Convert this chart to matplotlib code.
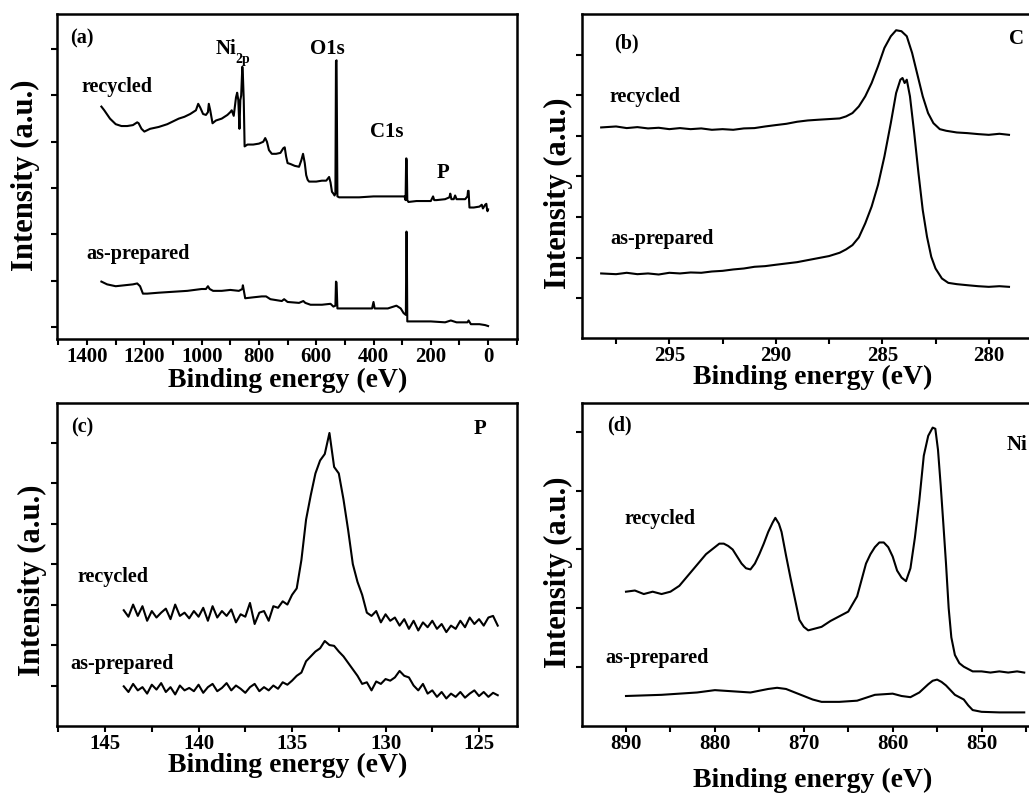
import matplotlib
matplotlib.use('Agg')
import matplotlib.pyplot as plt
from matplotlib.ticker import MultipleLocator

plt.rcParams['font.family'] = ['Liberation Serif', 'DejaVu Serif']
plt.rcParams['font.weight'] = 'bold'

# ---------------- data: panel (a) survey ----------------
a_rec_x = [1350, 1340, 1320, 1300, 1280, 1260, 1240, 1225, 1220, 1210, 1200, 1180, 1150, 1120,
           1100, 1080, 1060, 1040, 1020, 1012, 1005, 995, 985, 978, 975, 970, 962, 950, 930, 910,
           900, 895, 888, 880, 876, 872, 868, 865, 862, 858, 856, 853, 850, 840, 820, 800, 785,
           778, 772, 765, 755, 740, 725, 715, 710, 705, 700, 690, 675, 660, 652, 646, 640, 635,
           630, 625, 615, 600, 580, 565, 555, 550, 545, 540, 536, 533, 531, 529, 526, 520, 500,
           450, 400, 350, 300, 292, 288, 286, 285, 284, 282, 278, 250, 200, 192, 188, 180, 150,
           135, 132, 128, 120, 115, 110, 100, 80, 72, 70, 68, 65, 50, 30, 22, 18, 10, 6, 4, 2, 0]
a_rec_y = [2.38, 2.34, 2.25, 2.19, 2.17, 2.17, 2.18, 2.21, 2.20, 2.14, 2.11, 2.14, 2.16, 2.19,
           2.22, 2.25, 2.27, 2.30, 2.34, 2.41, 2.37, 2.30, 2.29, 2.32, 2.41, 2.34, 2.20, 2.23,
           2.25, 2.29, 2.32, 2.34, 2.28, 2.48, 2.53, 2.45, 2.14, 2.45, 2.50, 2.81, 2.72, 2.45,
           1.95, 1.97, 1.97, 1.98, 2.00, 2.04, 2.00, 1.91, 1.87, 1.87, 1.88, 1.93, 1.94, 1.84,
           1.77, 1.76, 1.74, 1.73, 1.80, 1.87, 1.77, 1.64, 1.59, 1.57, 1.57, 1.57, 1.58, 1.58,
           1.62, 1.56, 1.46, 1.44, 1.42, 1.44, 2.87, 2.88, 1.41, 1.40, 1.40, 1.40, 1.41, 1.41,
           1.41, 1.41, 1.37, 1.82, 1.82, 1.80, 1.37, 1.35, 1.36, 1.36, 1.41, 1.37, 1.37, 1.38,
           1.40, 1.44, 1.38, 1.38, 1.42, 1.38, 1.38, 1.38, 1.41, 1.47, 1.47, 1.29, 1.29, 1.30,
           1.32, 1.28, 1.32, 1.33, 1.28, 1.25, 1.27]

a_pre_x = [1350, 1330, 1300, 1270, 1240, 1225, 1215, 1205, 1190, 1150, 1100, 1050, 1000, 985,
           978, 972, 960, 930, 900, 870, 858, 856, 852, 848, 820, 790, 775, 760, 720, 712, 700,
           660, 645, 638, 620, 580, 550, 540, 533, 531, 529, 526, 500, 450, 405, 400, 396, 350,
           320, 305, 295, 287, 285, 284, 282, 250, 200, 150, 130, 110, 72, 68, 60, 30, 10, 0]
a_pre_y = [0.49, 0.46, 0.44, 0.45, 0.46, 0.47, 0.44, 0.36, 0.36, 0.37, 0.38, 0.39, 0.41, 0.41,
           0.44, 0.41, 0.39, 0.39, 0.40, 0.39, 0.41, 0.45, 0.38, 0.31, 0.32, 0.33, 0.33, 0.30,
           0.28, 0.30, 0.27, 0.26, 0.28, 0.26, 0.24, 0.24, 0.25, 0.22, 0.23, 0.49, 0.48, 0.20,
           0.20, 0.20, 0.20, 0.27, 0.20, 0.20, 0.23, 0.20, 0.15, 0.13, 1.03, 1.02, 0.06, 0.06,
           0.06, 0.05, 0.07, 0.05, 0.05, 0.07, 0.03, 0.03, 0.02, 0.01]

# ---------------- data: panel (b) C 1s ----------------
b_rec_x = [298.2, 297.5, 297.0, 296.5, 296.0, 295.5, 295.0, 294.5, 294.0, 293.5, 293.0, 292.5,
           292.0, 291.5, 291.0, 290.5, 290.0, 289.5, 289.0, 288.5, 288.0, 287.5, 287.0, 286.7,
           286.4, 286.1, 285.8, 285.5, 285.2, 284.9, 284.6, 284.35, 284.1, 283.85, 283.6, 283.35,
           283.1, 282.85, 282.6, 282.3, 282.0, 281.5, 281.0, 280.5, 280.0, 279.5, 279.05]
b_rec_y = [2.103, 2.115, 2.095, 2.107, 2.091, 2.099, 2.082, 2.095, 2.082, 2.091, 2.074, 2.082,
           2.074, 2.091, 2.095, 2.115, 2.132, 2.148, 2.173, 2.189, 2.198, 2.206, 2.214, 2.239,
           2.280, 2.362, 2.486, 2.650, 2.856, 3.082, 3.226, 3.300, 3.288, 3.226, 3.021, 2.753,
           2.486, 2.280, 2.156, 2.082, 2.062, 2.041, 2.033, 2.021, 2.012, 2.025, 2.012]

b_pre_x = [298.2, 297.5, 297.0, 296.5, 296.0, 295.5, 295.0, 294.5, 294.0, 293.5, 293.0, 292.5,
           292.0, 291.5, 291.0, 290.5, 290.0, 289.5, 289.0, 288.5, 288.0, 287.5, 287.0, 286.7,
           286.4, 286.1, 285.8, 285.5, 285.2, 284.9, 284.6, 284.35, 284.15, 284.05, 283.95,
           283.85, 283.7, 283.5, 283.3, 283.1, 282.9, 282.7, 282.5, 282.2, 281.9, 281.5, 281.0,
           280.5, 280.0, 279.5, 279.05]
b_pre_y = [0.305, 0.296, 0.313, 0.296, 0.305, 0.292, 0.313, 0.305, 0.317, 0.313, 0.329, 0.337,
           0.354, 0.366, 0.387, 0.395, 0.412, 0.428, 0.444, 0.469, 0.494, 0.519, 0.560, 0.601,
           0.654, 0.749, 0.922, 1.128, 1.395, 1.745, 2.156, 2.527, 2.691, 2.712, 2.650, 2.691,
           2.486, 2.033, 1.539, 1.086, 0.757, 0.510, 0.366, 0.243, 0.189, 0.173, 0.160, 0.148,
           0.140, 0.148, 0.140]

# ---------------- data: panel (c) P 2p ----------------
c_x = [144.00, 143.75, 143.50, 143.25, 143.00, 142.75, 142.50, 142.25, 142.00, 141.75, 141.50,
       141.25, 141.00, 140.75, 140.50, 140.25, 140.00, 139.75, 139.50, 139.25, 139.00, 138.75,
       138.50, 138.25, 138.00, 137.75, 137.50, 137.25, 137.00, 136.75, 136.50, 136.25, 136.00,
       135.75, 135.50, 135.25, 135.00, 134.75, 134.50, 134.25, 134.00, 133.75, 133.50, 133.25,
       133.00, 132.75, 132.50, 132.25, 132.00, 131.75, 131.50, 131.25, 131.00, 130.75, 130.50,
       130.25, 130.00, 129.75, 129.50, 129.25, 129.00, 128.75, 128.50, 128.25, 128.00, 127.75,
       127.50, 127.25, 127.00, 126.75, 126.50, 126.25, 126.00, 125.75, 125.50, 125.25, 125.00,
       124.75, 124.50, 124.25, 124.00]
c_rec_y = [0.93, 0.85, 1.00, 0.86, 0.98, 0.80, 0.92, 0.84, 0.90, 0.95, 0.82, 1.00, 0.86, 0.90,
           0.83, 0.92, 0.85, 0.96, 0.80, 0.98, 0.84, 0.92, 0.86, 0.94, 0.78, 0.88, 0.85, 1.02,
           0.76, 0.90, 0.92, 0.80, 0.98, 0.96, 1.04, 1.00, 1.12, 1.20, 1.55, 2.05, 2.35, 2.62,
           2.78, 2.86, 3.12, 2.70, 2.62, 2.30, 1.92, 1.50, 1.28, 1.12, 0.90, 0.86, 0.92, 0.78,
           0.88, 0.80, 0.84, 0.74, 0.82, 0.70, 0.80, 0.68, 0.78, 0.72, 0.80, 0.70, 0.76, 0.66,
           0.74, 0.70, 0.80, 0.72, 0.84, 0.76, 0.82, 0.74, 0.84, 0.86, 0.74]
c_pre_y = [-0.01, -0.08, 0.02, -0.06, -0.02, -0.10, 0.01, -0.05, 0.03, -0.08, -0.02, -0.11,
           0.00, -0.06, -0.03, -0.07, 0.01, -0.09, -0.02, 0.02, -0.07, -0.03, 0.03, -0.06, 0.00,
           -0.04, -0.09, -0.02, 0.02, -0.07, -0.02, -0.06, 0.00, -0.04, 0.04, 0.01, 0.06, 0.12,
           0.16, 0.30, 0.36, 0.42, 0.46, 0.55, 0.50, 0.49, 0.42, 0.36, 0.28, 0.20, 0.12, 0.02,
           0.04, -0.06, 0.05, 0.02, 0.08, 0.06, 0.10, 0.18, 0.12, 0.10, 0.00, -0.06, 0.02, -0.10,
           -0.06, -0.14, -0.08, -0.16, -0.10, -0.14, -0.08, -0.15, -0.10, -0.06, -0.13, -0.08,
           -0.14, -0.09, -0.12]

# ---------------- data: panel (d) Ni 2p ----------------
d_rec_x = [890.0, 889.0, 888.0, 887.0, 886.0, 885.0, 884.0, 883.0, 882.0, 881.0, 880.0, 879.5,
           879.0, 878.5, 878.0, 877.5, 877.0, 876.5, 876.0, 875.5, 875.0, 874.5, 874.0, 873.5,
           873.2, 872.8, 872.5, 872.0, 871.5, 871.0, 870.5, 870.0, 869.5, 869.0, 868.0, 867.0,
           866.0, 865.0, 864.0, 863.5, 863.0, 862.5, 862.0, 861.5, 861.0, 860.5, 860.0, 859.5,
           859.0, 858.5, 858.0, 857.5, 857.0, 856.5, 856.0, 855.5, 855.2, 854.9, 854.6, 854.3,
           854.0, 853.7, 853.4, 853.0, 852.5, 852.0, 851.0, 850.0, 849.0, 848.0, 847.0, 846.0,
           845.2]
d_rec_y = [0.64, 0.65, 0.62, 0.64, 0.62, 0.64, 0.69, 0.78, 0.87, 0.96, 1.02, 1.05, 1.05, 1.03,
           1.00, 0.94, 0.88, 0.84, 0.83, 0.88, 0.96, 1.05, 1.15, 1.23, 1.27, 1.22, 1.15, 0.95,
           0.76, 0.58, 0.40, 0.34, 0.31, 0.32, 0.34, 0.39, 0.43, 0.47, 0.60, 0.74, 0.88, 0.96,
           1.02, 1.06, 1.06, 1.02, 0.94, 0.82, 0.76, 0.73, 0.84, 1.10, 1.42, 1.80, 1.97, 2.04,
           2.03, 1.85, 1.55, 1.22, 0.88, 0.50, 0.25, 0.10, 0.03, 0.00, -0.04, -0.04, -0.05,
           -0.04, -0.05, -0.04, -0.05]

d_pre_x = [890, 888, 886, 884, 882, 880, 878, 876, 874, 873, 872, 871, 870, 869, 868, 866, 864,
           862, 860, 859, 858, 857, 856, 855.5, 855, 854.5, 854, 853.5, 853, 852.5, 852, 851.5,
           851, 850, 848, 846, 845.2]
d_pre_y = [-0.25, -0.245, -0.24, -0.23, -0.22, -0.20, -0.21, -0.22, -0.19, -0.18, -0.19, -0.22,
           -0.25, -0.28, -0.30, -0.30, -0.29, -0.24, -0.23, -0.25, -0.26, -0.22, -0.15, -0.12,
           -0.11, -0.13, -0.16, -0.20, -0.24, -0.26, -0.28, -0.33, -0.37, -0.385, -0.39, -0.39,
           -0.39]

# ---------------- tick settings ----------------
a_xticks = [1400, 1200, 1000, 800, 600, 400, 200, 0]
b_xticks = [295, 290, 285, 280]
c_xticks = [145, 140, 135, 130, 125]
d_xticks = [890, 880, 870, 860, 850]

W, H = 1029, 796
fig = plt.figure(figsize=(W / 100, H / 100), dpi=100)


def px_ax(l, t, r, b):
    return [l / W, 1 - b / H, (r - l) / W, (b - t) / H]


def ftext(x, y, s, size=14, **kw):
    fig.text(x / W, 1 - y / H, s, ha='center', va='center', fontsize=size,
             fontweight='bold', **kw)


def style(ax, xlim, ylim, xticks, xminor, yticks):
    ax.set_xlim(*xlim)
    ax.set_ylim(*ylim)
    ax.set_xticks(xticks)
    ax.xaxis.set_minor_locator(MultipleLocator(xminor))
    ax.set_yticks(yticks)
    ax.tick_params(axis='both', which='both', direction='out', length=4, width=1.5,
                   labelsize=15, pad=2)
    ax.tick_params(axis='y', labelleft=False)
    for s in ax.spines.values():
        s.set_linewidth(1.8)
    for lab in ax.get_xticklabels():
        lab.set_fontweight('bold')


lw = 1.5
axA = fig.add_axes(px_ax(57, 14, 517, 339))
axA.plot(a_rec_x, a_rec_y, color='black', lw=lw)
axA.plot(a_pre_x, a_pre_y, color='black', lw=lw)
style(axA, (1505, -101), (-0.13, 3.38), a_xticks, 100, [0, 0.5, 1, 1.5, 2, 2.5, 3])

axB = fig.add_axes(px_ax(582, 14, 1042, 338))
axB.plot(b_rec_x, b_rec_y, color='black', lw=lw)
axB.plot(b_pre_x, b_pre_y, color='black', lw=lw)
style(axB, (299.1, 277.5), (-0.49, 3.5), b_xticks, 2.5, [0, 0.5, 1, 1.5, 2, 2.5, 3])

axC = fig.add_axes(px_ax(57, 403, 517, 726))
axC.plot(c_x, c_rec_y, color='black', lw=lw)
axC.plot(c_x, c_pre_y, color='black', lw=lw)
style(axC, (147.57, 122.97), (-0.5, 3.49), c_xticks, 2.5, [0, 0.5, 1, 1.5, 2, 2.5, 3])

axD = fig.add_axes(px_ax(582, 403, 1042, 726))
axD.plot(d_rec_x, d_rec_y, color='black', lw=lw)
axD.plot(d_pre_x, d_pre_y, color='black', lw=lw)
style(axD, (894.95, 843.2), (-0.506, 2.25), d_xticks, 5, [0, 0.5, 1, 1.5, 2])

# axis labels
for (x, y) in [(288, 380), (813, 377), (288, 765), (813, 780)]:
    ftext(x, y, 'Binding energy (eV)', size=20)
for (x, y) in [(25, 175), (558, 193), (32, 580), (558, 572)]:
    ftext(x, y, 'Intensity (a.u.)', size=22, rotation=90)

# annotations panel (a)
ftext(82, 38, '(a)', 14.5)
ftext(226, 49, 'Ni', 15)
ftext(243, 59, '2p', 10)
ftext(327, 49, 'O1s', 15)
ftext(117, 87, 'recycled', 14.5)
ftext(387, 132, 'C1s', 15)
ftext(443, 173, 'P', 15)
ftext(138, 254, 'as-prepared', 14.5)
# panel (b)
ftext(626, 43, '(b)', 14.5)
ftext(1017, 39, 'C', 15)
ftext(645, 97, 'recycled', 14.5)
ftext(662, 239, 'as-prepared', 14.5)
# panel (c)
ftext(82, 427, '(c)', 14.5)
ftext(480, 429, 'P', 15)
ftext(113, 577, 'recycled', 14.5)
ftext(122, 664, 'as-prepared', 14.5)
# panel (d)
ftext(619, 425, '(d)', 14.5)
ftext(1017, 445, 'Ni', 15)
ftext(660, 519, 'recycled', 14.5)
ftext(657, 658, 'as-prepared', 14.5)

fig.savefig('out.png', dpi=100)
